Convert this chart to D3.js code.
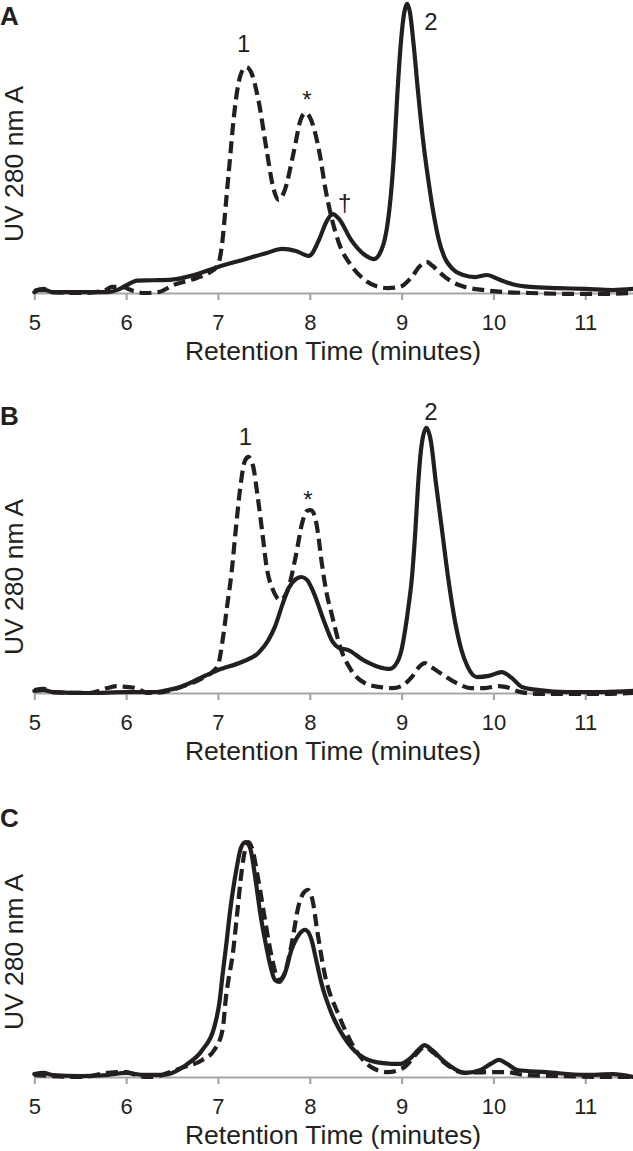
<!DOCTYPE html>
<html>
<head>
<meta charset="utf-8">
<script src="https://cdn.jsdelivr.net/npm/d3@7"></script>
<style>
  html, body { margin: 0; padding: 0; background: #fff; }
  svg { display: block; }
  text { font-family: "Liberation Sans", Arial, Helvetica, sans-serif; fill: #231f20; }
</style>
</head>
<body>
<svg id="chart" width="633" height="1151"></svg>
<script>
// ---------------- DATA ----------------
const xTicks = [5, 6, 7, 8, 9, 10, 11];
const panelNames = ["A", "B", "C"];
const xTitle = "Retention Time (minutes)";
const yTitle = "UV 280 nm A";

// [retention time (min), absorbance (relative units)]
const aSolid = [[5.0,0.3],[5.05,1.0],[5.12,1.0],[5.2,0.3],[5.5,0.3],[5.8,0.3],[5.9,1.0],[6.0,2.6],[6.12,4.3],[6.3,4.4],[6.5,4.6],[6.74,6.2],[7.0,9.0],[7.27,11.4],[7.53,13.8],[7.7,15.2],[7.85,14.5],[7.99,12.8],[8.1,18.3],[8.18,24.5],[8.25,27.2],[8.32,25.5],[8.45,18.3],[8.6,13.1],[8.7,11.7],[8.78,14.8],[8.82,19.0],[8.85,24.5],[8.88,32.8],[8.92,49.3],[8.95,66.6],[8.99,85.5],[9.03,96.9],[9.06,99.7],[9.09,96.9],[9.13,86.0],[9.18,69.0],[9.24,51.0],[9.3,37.0],[9.35,27.0],[9.4,19.0],[9.47,12.1],[9.55,8.5],[9.67,6.2],[9.8,5.5],[9.93,6.2],[10.05,4.8],[10.2,3.1],[10.4,2.1],[10.7,1.7],[11.0,1.4],[11.3,1.0],[11.52,1.4]];
const aDashed = [[5.0,0.7],[5.1,1.4],[5.2,0.3],[5.5,0],[5.75,0.7],[5.85,2.1],[5.95,2.1],[6.08,0.7],[6.2,0],[6.35,0.3],[6.52,2.8],[6.77,5.2],[6.9,6.9],[7.0,9.7],[7.05,18.3],[7.09,32.1],[7.13,45.9],[7.17,59.7],[7.22,71.7],[7.27,76.9],[7.31,77.9],[7.36,76.2],[7.44,66.6],[7.53,49.3],[7.6,36.6],[7.66,32.1],[7.72,34.8],[7.83,49.3],[7.9,59.7],[7.95,62.1],[8.0,60.7],[8.06,55.0],[8.11,47.6],[8.17,36.0],[8.23,26.9],[8.32,17.0],[8.45,9.5],[8.6,4.5],[8.72,2.4],[8.85,1.7],[8.98,2.1],[9.11,5.5],[9.2,9.3],[9.27,10.7],[9.34,9.3],[9.42,6.9],[9.55,3.8],[9.69,2.1],[9.9,1.0],[10.13,0.3],[10.4,0],[10.8,-0.3],[11.2,-0.3],[11.52,0]];

const bSolid = [[5.0,0.7],[5.1,1.0],[5.2,0.3],[5.6,0],[6.0,0.3],[6.3,0.3],[6.45,1.0],[6.59,2.1],[6.81,5.2],[7.0,7.9],[7.26,10.7],[7.44,13.8],[7.55,18.3],[7.62,22.8],[7.7,30.3],[7.77,36.2],[7.85,39.3],[7.91,40.0],[7.97,39.0],[8.04,34.8],[8.15,25.2],[8.25,17.6],[8.32,15.5],[8.42,14.8],[8.58,11.4],[8.75,9.0],[8.87,8.3],[8.95,10.5],[9.0,15.0],[9.04,22.0],[9.08,31.0],[9.11,39.0],[9.15,56.0],[9.18,72.0],[9.22,86.0],[9.27,91.4],[9.32,86.6],[9.37,73.4],[9.44,56.2],[9.51,39.0],[9.58,25.0],[9.65,15.0],[9.72,9.0],[9.82,5.5],[9.95,5.9],[10.09,7.2],[10.2,5.2],[10.31,2.1],[10.5,1.0],[10.8,0.3],[11.2,0.3],[11.52,0.7]];
const bDashed = [[5.0,1.0],[5.1,1.4],[5.2,0.3],[5.6,0],[5.8,1.7],[5.9,2.4],[6.0,2.1],[6.1,1.7],[6.24,0],[6.4,0.3],[6.6,2.1],[6.81,4.8],[6.95,7.6],[7.0,9.5],[7.05,18.0],[7.1,30.0],[7.15,42.0],[7.19,55.0],[7.24,70.0],[7.29,79.7],[7.33,81.4],[7.38,78.6],[7.43,68.3],[7.48,56.2],[7.53,43.4],[7.6,35.5],[7.68,32.1],[7.76,35.5],[7.85,47.6],[7.92,59.0],[7.97,62.8],[8.01,63.1],[8.05,61.4],[8.09,55.0],[8.13,45.0],[8.18,35.0],[8.24,27.0],[8.33,16.0],[8.45,7.9],[8.6,3.4],[8.75,2.1],[8.9,1.7],[9.0,2.4],[9.11,5.5],[9.2,9.3],[9.25,10.3],[9.32,9.0],[9.42,6.9],[9.6,3.4],[9.75,1.7],[9.91,1.7],[10.05,2.4],[10.13,2.1],[10.3,0.3],[10.5,-0.3],[10.8,-0.3],[11.2,-0.3],[11.52,0]];

const cSolid = [[5.0,1.0],[5.1,1.4],[5.2,0.7],[5.5,0.3],[5.8,0.7],[6.0,1.4],[6.2,0.7],[6.4,0.7],[6.5,1.4],[6.65,4.1],[6.83,9.3],[6.96,17.2],[7.02,26.6],[7.05,35.2],[7.09,45.5],[7.13,56.6],[7.2,71.4],[7.25,79.0],[7.3,81.0],[7.35,79.0],[7.41,67.9],[7.46,56.6],[7.52,46.0],[7.57,38.5],[7.62,33.5],[7.67,32.8],[7.73,35.9],[7.8,43.8],[7.88,49.0],[7.95,50.7],[8.02,47.2],[8.07,40.3],[8.13,32.0],[8.23,22.5],[8.41,12.0],[8.59,6.6],[8.8,4.8],[8.98,4.5],[9.1,6.6],[9.18,9.3],[9.25,11.0],[9.33,9.3],[9.47,5.2],[9.6,2.4],[9.7,1.4],[9.86,2.4],[9.97,4.5],[10.06,5.9],[10.15,4.5],[10.26,2.4],[10.57,1.7],[11.0,0.7],[11.3,1.0],[11.52,0]];
const cDashed = [[5.0,0.7],[5.2,0.3],[5.5,0],[5.8,1.4],[5.9,1.7],[6.0,1.7],[6.08,1.0],[6.2,0],[6.3,0],[6.45,1.4],[6.6,3.1],[6.83,5.9],[6.96,9.3],[7.05,16.2],[7.09,28.3],[7.12,34.5],[7.16,42.1],[7.21,56.6],[7.26,71.4],[7.3,79.0],[7.33,81.0],[7.37,79.0],[7.44,67.9],[7.5,56.6],[7.55,47.2],[7.6,39.3],[7.66,33.4],[7.72,35.2],[7.8,45.5],[7.88,59.3],[7.94,63.8],[7.98,64.5],[8.03,61.0],[8.08,50.7],[8.16,35.9],[8.32,21.0],[8.45,12.0],[8.67,3.4],[8.85,1.7],[9.03,3.4],[9.15,7.6],[9.25,10.3],[9.35,8.3],[9.47,4.8],[9.69,1.4],[9.95,1.7],[10.13,1.7],[10.35,0.7],[10.8,0.3],[11.2,0],[11.52,0]];

// peak annotations: [label, time, absorbance]
const aNotes = [["1",7.28,83.1],["*",7.97,63.8],["†",8.38,28.3],["2",9.32,90.7]];
const bNotes = [["1",7.30,85.5],["*",7.98,63.8],["2",9.32,94.1]];
const cNotes = [];

// ---------------- LAYOUT ----------------
const panels = [
  { name: panelNames[0], solid: aSolid, dashed: aDashed, notes: aNotes, axisY: 293, letterY: 25, yLabelY: 164 },
  { name: panelNames[1], solid: bSolid, dashed: bDashed, notes: bNotes, axisY: 693, letterY: 425, yLabelY: 577 },
  { name: panelNames[2], solid: cSolid, dashed: cDashed, notes: cNotes, axisY: 1077, letterY: 827, yLabelY: 952 }
];
const plotH = 290;
const ink = "#231f20";

const svg = d3.select("#chart");
const x = d3.scaleLinear().domain([5, 11.52]).range([34.3, 633]);

panels.forEach(p => {
  const y = d3.scaleLinear().domain([0, 100]).range([p.axisY, p.axisY - plotH]);
  const g = svg.append("g");

  // axis
  const axis = d3.axisBottom(x).tickValues(xTicks).tickSize(7).tickSizeOuter(0).tickPadding(14)
    .tickFormat(d3.format("d"));
  const ax = g.append("g").attr("transform", `translate(0,${p.axisY})`).call(axis);
  ax.select(".domain").attr("stroke", "#a7a7a7").attr("stroke-width", 2.2);
  ax.selectAll(".tick line").attr("stroke", "#a7a7a7").attr("stroke-width", 2.2);
  ax.selectAll(".tick text").attr("font-size", 22).attr("fill", ink)
    .attr("font-family", '"Liberation Sans", Arial, sans-serif');

  // axis titles
  g.append("text").attr("x", 333).attr("y", p.axisY + 67).attr("text-anchor", "middle")
    .attr("font-size", 26.5).text(xTitle);
  g.append("text").attr("transform", `translate(23,${p.yLabelY}) rotate(-90)`)
    .attr("text-anchor", "middle").attr("font-size", 26.5).text(yTitle);

  // panel letter
  g.append("text").attr("x", 0).attr("y", p.letterY).attr("font-size", 26)
    .attr("font-weight", "bold").text(p.name);

  const line = d3.line().x(d => x(d[0])).y(d => y(d[1])).curve(d3.curveMonotoneX);

  g.append("path").datum(p.dashed).attr("d", line).attr("fill", "none")
    .attr("stroke", ink).attr("stroke-width", 4.2).attr("stroke-dasharray", "12,6")
    .attr("stroke-linejoin", "round");
  g.append("path").datum(p.solid).attr("d", line).attr("fill", "none")
    .attr("stroke", ink).attr("stroke-width", 4.2).attr("stroke-linejoin", "round")
    .attr("stroke-linecap", "round");

  g.selectAll("text.note").data(p.notes).enter().append("text").attr("class", "note")
    .attr("x", d => x(d[1])).attr("y", d => y(d[2])).attr("text-anchor", "middle")
    .attr("font-size", 24).text(d => d[0]);
});
</script>
</body>
</html>
